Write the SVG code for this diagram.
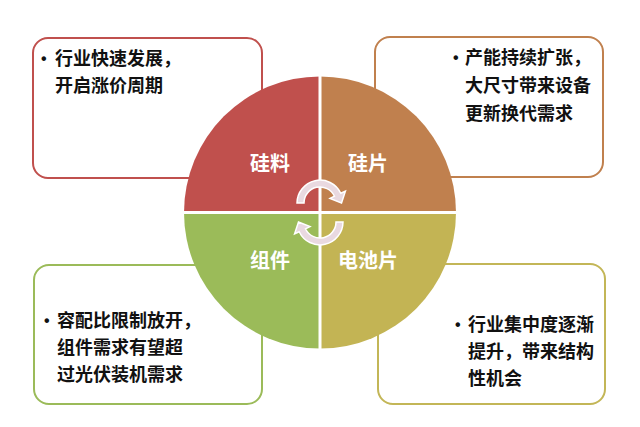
<svg xmlns="http://www.w3.org/2000/svg" width="640" height="427" viewBox="0 0 640 427">
<style>
.box{fill:#fff;stroke-width:2}
.t{font-family:"Noto Sans CJK SC","Liberation Sans",sans-serif;font-weight:bold;font-size:18px;fill:#111}
.b{font-family:"Liberation Sans",sans-serif;font-weight:bold;font-size:16px;fill:#111}
.q{font-family:"Noto Sans CJK SC","Liberation Sans",sans-serif;font-weight:bold;font-size:20px;fill:#fff}
.arr{fill:#E9D9E0;stroke:#fff;stroke-width:1.5}
</style>
<rect width="640" height="427" fill="#fff"/>
<g id="box-tl"><rect class="box" x="33" y="38" width="229" height="140" rx="15" stroke="#C0504D"/>
<text class="b" x="41" y="64">•</text><text class="t" x="55" y="65">行业快速发展，</text><text class="t" x="55" y="92">开启涨价周期</text></g>
<g id="box-tr"><rect class="box" x="375" y="37" width="228" height="140" rx="15" stroke="#C0804E"/>
<text class="b" x="453" y="63">•</text><text class="t" x="465" y="64">产能持续扩张，</text><text class="t" x="465" y="92">大尺寸带来设备</text><text class="t" x="465" y="120">更新换代需求</text></g>
<g id="box-bl"><rect class="box" x="34" y="265" width="228" height="139" rx="15" stroke="#9BBB59"/>
<text class="b" x="44" y="326">•</text><text class="t" x="57" y="327">容配比限制放开，</text><text class="t" x="57" y="354">组件需求有望超</text><text class="t" x="57" y="381">过光伏装机需求</text></g>
<g id="box-br"><rect class="box" x="378" y="264" width="227" height="140" rx="15" stroke="#C3B657"/>
<text class="b" x="455" y="330">•</text><text class="t" x="468" y="331">行业集中度逐渐</text><text class="t" x="468" y="358">提升，带来结构</text><text class="t" x="468" y="385">性机会</text></g>
<g id="wheel">
<path id="q-tl" d="M320 212.5 L184 212.5 A136 136 0 0 1 320 76.5 Z" fill="#C0504D"/>
<path id="q-tr" d="M320 212.5 L320 76.5 A136 136 0 0 1 456 212.5 Z" fill="#C0804E"/>
<path id="q-br" d="M320 212.5 L456 212.5 A136 136 0 0 1 320 348.5 Z" fill="#C3B454"/>
<path id="q-bl" d="M320 212.5 L320 348.5 A136 136 0 0 1 184 212.5 Z" fill="#9BBB59"/>
<line x1="320" y1="75" x2="320" y2="350" stroke="#fff" stroke-width="3"/>
<line x1="182" y1="212.5" x2="458" y2="212.5" stroke="#fff" stroke-width="3"/>
<text class="q" x="270" y="171" text-anchor="middle">硅料</text>
<text class="q" x="368" y="171" text-anchor="middle">硅片</text>
<text class="q" x="270" y="268" text-anchor="middle">组件</text>
<text class="q" x="368" y="268" text-anchor="middle">电池片</text>
</g>
<g id="connectors">
<path class="arr" d="M297 203 A23 23 0 0 1 340.8 193.3 L345.4 191.2 L341.5 203 L330 198.4 L334.5 196.2 A16 16 0 0 0 304 203 Z"/>
<path class="arr" transform="rotate(180 320 212.5)" d="M297 203 A23 23 0 0 1 340.8 193.3 L345.4 191.2 L341.5 203 L330 198.4 L334.5 196.2 A16 16 0 0 0 304 203 Z"/>
</g>
</svg>
